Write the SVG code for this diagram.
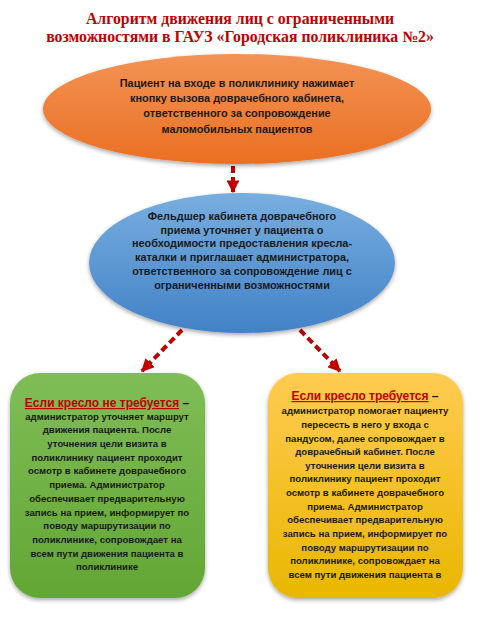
<svg xmlns="http://www.w3.org/2000/svg" width="480" height="617" viewBox="0 0 480 617">
<style>
.title{font-family:"Liberation Serif",serif;font-weight:bold;font-size:15.8px;fill:#c00000;text-anchor:middle}
.t{font-family:"Liberation Sans",sans-serif;font-weight:bold;font-size:9.6px;fill:#1a1a1a;text-anchor:middle}
.e{font-family:"Liberation Sans",sans-serif;font-weight:bold;font-size:10.9px;fill:#1a1a1a;text-anchor:middle}
.h{font-family:"Liberation Sans",sans-serif;font-size:12px;fill:#c00000;text-anchor:middle;font-weight:bold}
.conn{stroke:#c00000;stroke-width:4;fill:none;stroke-dasharray:7 4}
</style>
<defs>
<linearGradient id="gOr" x1="0" y1="0" x2="0" y2="1"><stop offset="0" stop-color="#f39355"/><stop offset="1" stop-color="#ea6f22"/></linearGradient>
<linearGradient id="gBl" x1="0" y1="0" x2="0" y2="1"><stop offset="0" stop-color="#78aee0"/><stop offset="1" stop-color="#4282c6"/></linearGradient>
<linearGradient id="gGr" x1="0" y1="0" x2="0" y2="1"><stop offset="0" stop-color="#80bd57"/><stop offset="1" stop-color="#62a634"/></linearGradient>
<linearGradient id="gYe" x1="0" y1="0" x2="0" y2="1"><stop offset="0" stop-color="#ffcb52"/><stop offset="1" stop-color="#e9b700"/></linearGradient>
<filter id="sh" x="-10%" y="-10%" width="120%" height="125%"><feDropShadow dx="0" dy="2" stdDeviation="2" flood-color="#000" flood-opacity="0.35"/></filter>
<marker id="ah" viewBox="0 0 10 10" refX="9" refY="5" markerWidth="3.2" markerHeight="3.2" orient="auto" markerUnits="strokeWidth"><path d="M0,0 L10,5 L0,10 z" fill="#c00000"/></marker>
</defs>
<g id="title">
<text class="title" x="240" y="24">Алгоритм движения лиц с ограниченными</text>
<text class="title" x="240" y="42">возможностями в ГАУЗ «Городская поликлиника №2»</text>
</g>
<g id="connectors">
<line class="conn" x1="233" y1="166" x2="233" y2="192" marker-end="url(#ah)"/>
<line class="conn" x1="182" y1="330" x2="142" y2="371" marker-end="url(#ah)"/>
<line class="conn" x1="300" y1="330" x2="340" y2="371" marker-end="url(#ah)"/>
</g>
<g id="n1">
<ellipse cx="237" cy="109" rx="194" ry="55" fill="url(#gOr)" filter="url(#sh)"/>
<text class="e" x="237" y="87">Пациент на входе в поликлинику нажимает</text>
<text class="e" x="237" y="102">кнопку вызова доврачебного кабинета,</text>
<text class="e" x="237" y="117">ответственного за сопровождение</text>
<text class="e" x="237" y="133">маломобильных пациентов</text>
</g>
<g id="n2">
<ellipse cx="242" cy="263" rx="153" ry="70" fill="url(#gBl)" filter="url(#sh)"/>
<text class="e" x="242" y="220">Фельдшер кабинета доврачебного</text>
<text class="e" x="242" y="234">приема уточняет у пациента о</text>
<text class="e" x="242" y="247">необходимости предоставления кресла-</text>
<text class="e" x="242" y="261">каталки и приглашает администратора,</text>
<text class="e" x="242" y="275">ответственного за сопровождение лиц с</text>
<text class="e" x="242" y="289">ограниченными возможностями</text>
</g>
<g id="n3">
<rect x="10" y="373" width="195" height="225" rx="30" fill="url(#gGr)" filter="url(#sh)"/>
<text class="h" x="107" y="407"><tspan text-decoration="underline">Если кресло не требуется</tspan><tspan fill="#1a1a1a"> –</tspan></text>
<text class="t" x="107" y="420">администратор  уточняет  маршрут</text>
<text class="t" x="107" y="433">движения пациента. После</text>
<text class="t" x="107" y="447">уточнения цели визита в</text>
<text class="t" x="107" y="461">поликлинику пациент проходит</text>
<text class="t" x="107" y="474">осмотр в кабинете доврачебного</text>
<text class="t" x="107" y="488">приема. Администратор</text>
<text class="t" x="107" y="502">обеспечивает предварительную</text>
<text class="t" x="107" y="516">запись на прием, информирует по</text>
<text class="t" x="107" y="529">поводу маршрутизации по</text>
<text class="t" x="107" y="543">поликлинике, сопровождает на</text>
<text class="t" x="107" y="557">всем пути движения пациента в</text>
<text class="t" x="107" y="570">поликлинике</text>
</g>
<g id="n4">
<rect x="268" y="373" width="195" height="225" rx="30" fill="url(#gYe)" filter="url(#sh)"/>
<text class="h" x="365" y="400"><tspan text-decoration="underline">Если кресло требуется</tspan><tspan fill="#1a1a1a"> –</tspan></text>
<text class="t" x="365" y="414">администратор  помогает пациенту</text>
<text class="t" x="365" y="428">пересесть в него у входа с</text>
<text class="t" x="365" y="442">пандусом, далее  сопровождает в</text>
<text class="t" x="365" y="455">доврачебный кабинет.  После</text>
<text class="t" x="365" y="469">уточнения цели визита в</text>
<text class="t" x="365" y="482">поликлинику пациент проходит</text>
<text class="t" x="365" y="496">осмотр в кабинете доврачебного</text>
<text class="t" x="365" y="510">приема. Администратор</text>
<text class="t" x="365" y="523">обеспечивает предварительную</text>
<text class="t" x="365" y="537">запись на прием, информирует по</text>
<text class="t" x="365" y="551">поводу маршрутизации по</text>
<text class="t" x="365" y="564">поликлинике, сопровождает на</text>
<text class="t" x="365" y="578">всем пути движения пациента в</text>
</g>
</svg>
